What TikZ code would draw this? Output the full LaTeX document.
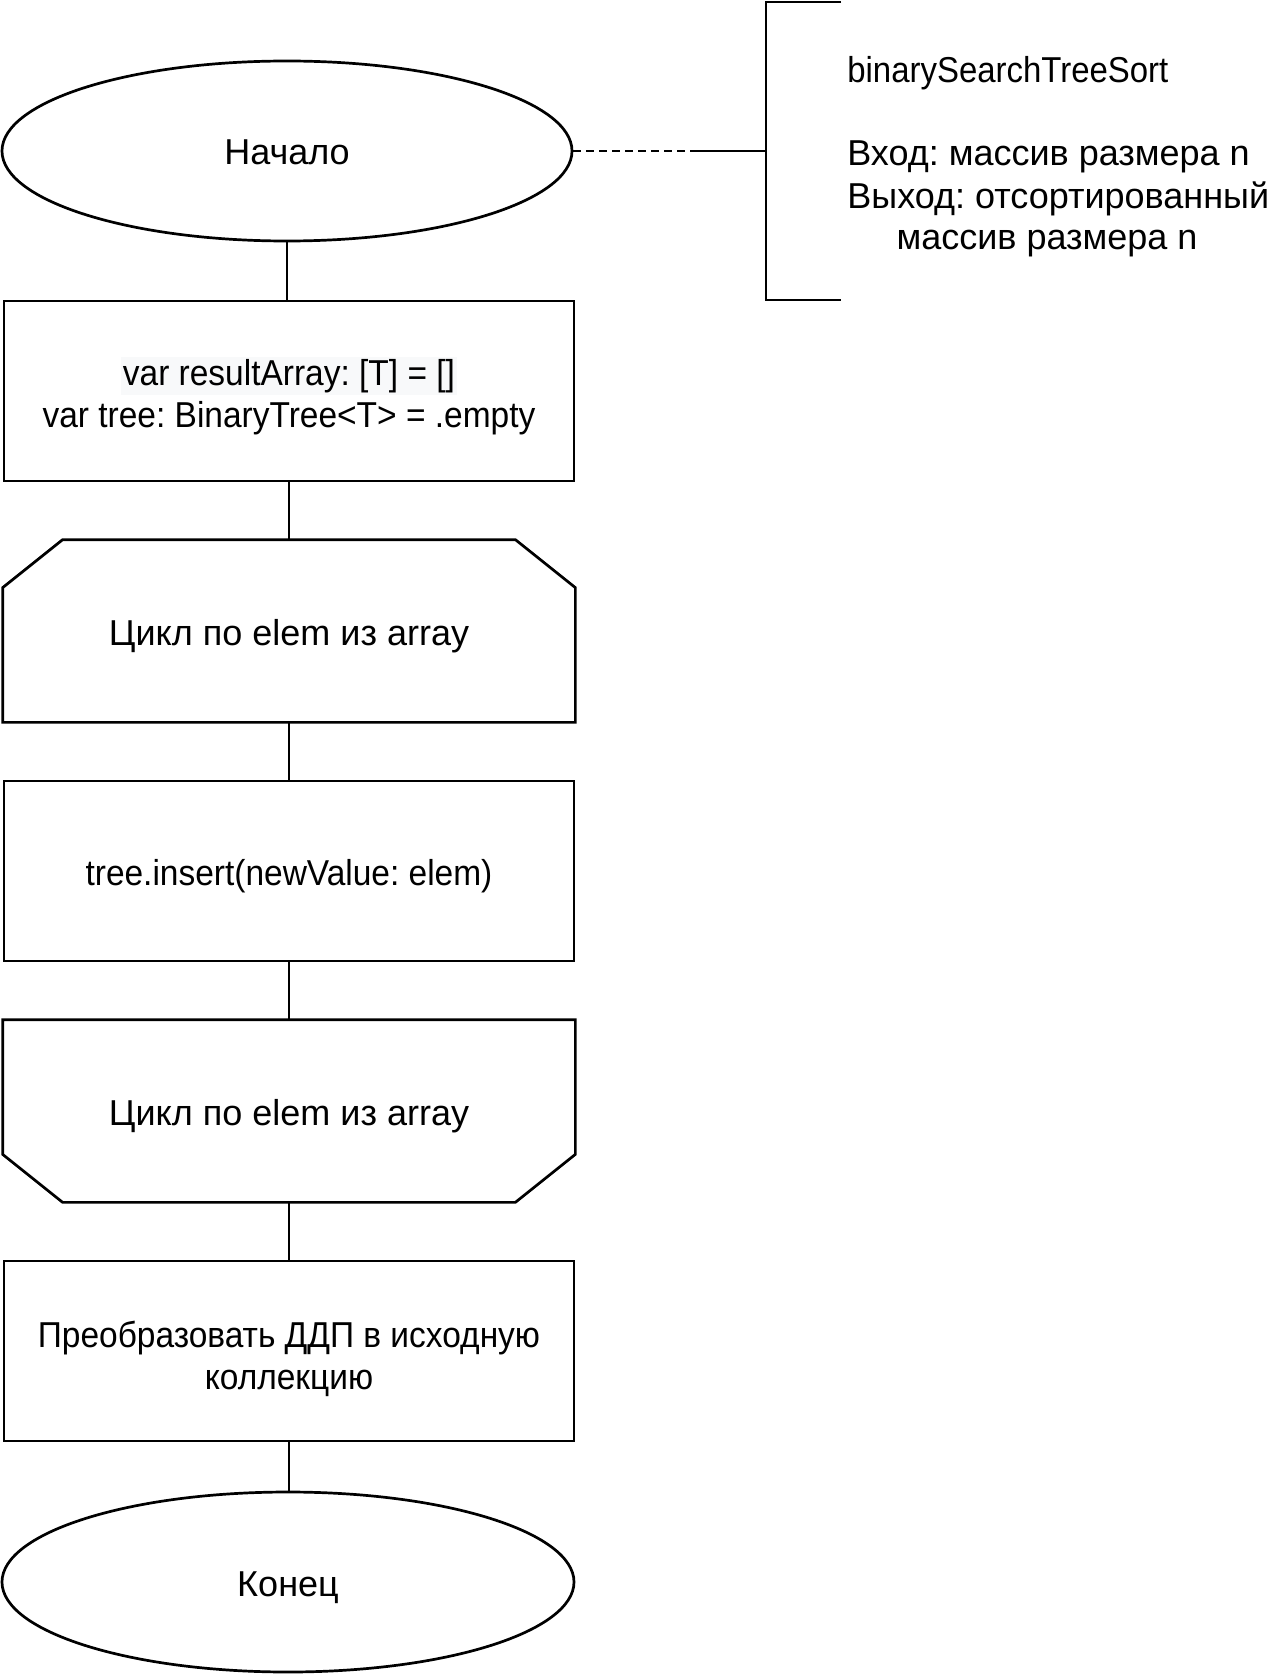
\documentclass[tikz,border=0pt]{standalone}
\usepackage{fontspec}
\setmainfont{Liberation Sans}
\newfontfamily\narrowA{Liberation Sans}[FakeStretch=0.93]
\newfontfamily\narrowB{Liberation Sans}[FakeStretch=0.915]
\usetikzlibrary{shapes.geometric,calc}
\definecolor{hl}{RGB}{248,249,250}
\begin{document}
\frenchspacing
\begin{tikzpicture}[x=1pt,y=-1pt, line width=2.7pt, font=\fontsize{36}{43}\selectfont,
  term/.style={ellipse, draw, minimum width=570pt, minimum height=180pt, inner sep=0pt, text height=28pt, text depth=0pt},
  proc/.style={rectangle, draw, minimum width=570pt, minimum height=180pt, align=center, inner sep=0pt,
    font=\narrowA\fontsize{36}{42}\selectfont},
  loopbox/.style={rectangle, draw=none, minimum width=570pt, minimum height=180pt, inner sep=0pt, text height=29pt, text depth=0pt},
  txt/.style={inner sep=0pt, text height=30pt, text depth=4pt}]
\useasboundingbox (0,0) rectangle (1281,1677);

% flow nodes
\node[term] (start) at (287,151) {Начало};
\node[proc, text height=73pt, text depth=0pt] (b1) at (289,391) {\fboxsep=2pt\colorbox{hl}{var resultArray: [T] = []}\\var tree: BinaryTree<T> = .empty};
\node[loopbox] (l1) at (289,631) {Цикл по elem из array};
\draw ($(l1.north west)+(60,0)$) -- ($(l1.north east)+(-60,0)$) -- ($(l1.north east)+(0,48)$)
  -- (l1.south east) -- (l1.south west) -- ($(l1.north west)+(0,48)$) -- cycle;
\node[proc, text height=29pt, text depth=0pt] (b2) at (289,871) {tree.insert(newValue: elem)};
\node[loopbox] (l2) at (289,1111) {Цикл по elem из array};
\draw (l2.north west) -- (l2.north east) -- ($(l2.south east)+(0,-48)$) -- ($(l2.south east)+(-60,0)$)
  -- ($(l2.south west)+(60,0)$) -- ($(l2.south west)+(0,-48)$) -- cycle;
\node[proc, text height=77pt, text depth=0pt] (b3) at (289,1351) {Преобразовать ДДП в исходную\\коллекцию};
\node[term, minimum width=572pt] (end) at (288,1582) {Конец};

% connectors
\draw (start.south) -- (start.south |- b1.north);
\draw (b1.south) -- (l1.north);
\draw (l1.south) -- (b2.north);
\draw (b2.south) -- (l2.north);
\draw (l2.south) -- (b3.north);
\draw (b3.south) -- (b3.south |- end.north);

% comment
\coordinate (dm) at (693,151);
\coordinate (br) at (766,151);
\draw[dash pattern=on 8pt off 5pt, line width=2.4pt] (start.east) -- (start.east -| dm);
\draw (dm) -- (br);
\draw ($(br)+(75,-149)$) -- ($(br)+(0,-149)$) -- ($(br)+(0,149)$) -- ($(br)+(75,149)$);

\node[txt, anchor=west, font=\narrowB\fontsize{36}{43}\selectfont] (c1) at (846,69.5) {binarySearchTreeSort};
\node[txt, anchor=west] (c2) at (846,153) {Вход: массив размера n};
\node[txt, anchor=west] (c3) at (846,196) {Выход: отсортированный};
\node[txt] (c4) at (1047,237) {массив размера n};
\end{tikzpicture}
\end{document}
